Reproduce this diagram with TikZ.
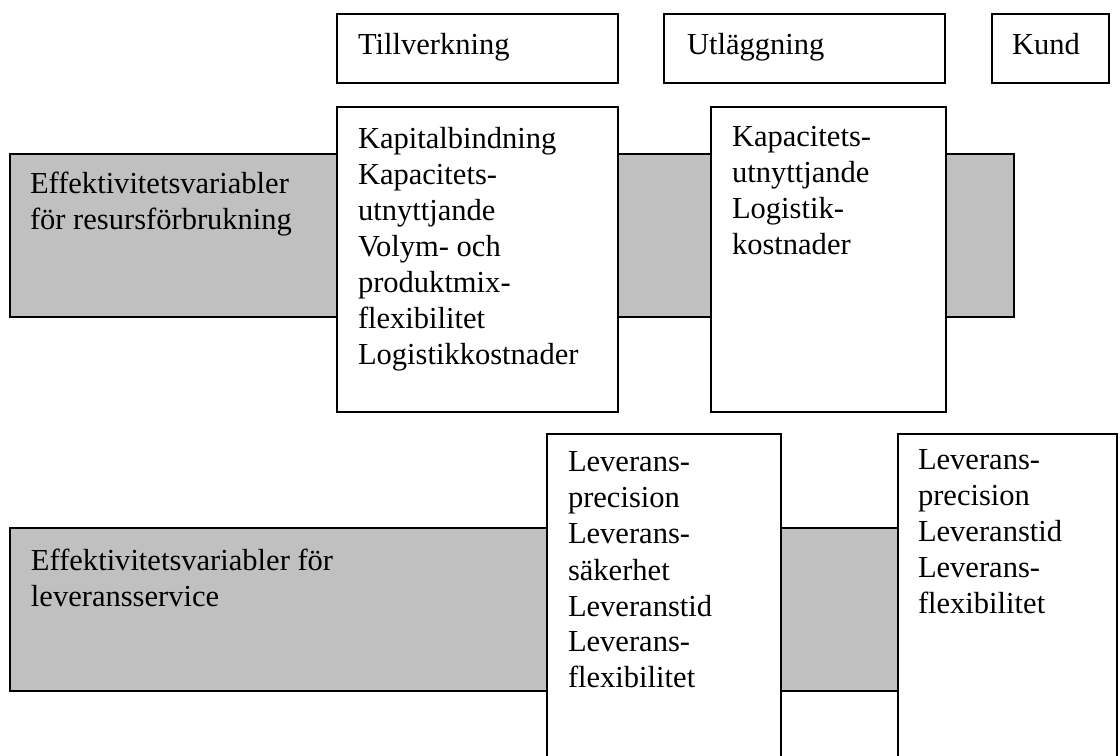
\documentclass[tikz,border=0pt]{standalone}
\usepackage{fontspec}
\setmainfont{Liberation Serif}
\definecolor{bandgray}{RGB}{192,192,192}
\tikzset{
  boxframe/.style={rectangle,draw=black,line width=0.9pt,inner sep=0pt,outer sep=0pt,anchor=north west},
  whitebox/.style={boxframe,fill=white},
  graybar/.style={boxframe,fill=bandgray},
  txt/.style={anchor=north west,inner sep=0pt,outer sep=0pt,align=left,
              font=\fontsize{22.9pt}{27pt}\selectfont}
}
\begin{document}
\begin{tikzpicture}[x=0.75pt,y=-0.75pt]
\useasboundingbox (0,0) rectangle (1120,756);
\clip (0,0) rectangle (1120,756);

% grey bands behind the columns
\node[graybar,minimum width=753pt,minimum height=122.25pt] (band1) at (10,154) {};
\node[graybar,minimum width=667.5pt,minimum height=122.25pt] (band2) at (10,528) {};

% header boxes
\node[whitebox,minimum width=210.75pt,minimum height=51.75pt] (head1) at (337,14) {};
\node[whitebox,minimum width=210.75pt,minimum height=51.75pt] (head2) at (664,14) {};
\node[whitebox,minimum width=87.75pt,minimum height=51.75pt] (head3) at (992,14) {};

% resource-consumption columns
\node[whitebox,minimum width=210.75pt,minimum height=228.75pt] (res1) at (337,107) {};
\node[whitebox,minimum width=176.25pt,minimum height=228.75pt] (res2) at (711,107) {};

% delivery-service columns (running off the bottom)
\node[whitebox,minimum width=175.5pt,minimum height=270pt] (del1) at (547,434) {};
\node[whitebox,minimum width=164.25pt,minimum height=270pt] (del2) at (898,434) {};

% texts
\node[txt] (head1t) at ([shift={(21,19)}]head1.north west) {Tillverkning};
\node[txt] (head2t) at ([shift={(23,19)}]head2.north west) {Utläggning};
\node[txt] (head3t) at ([shift={(20,19)}]head3.north west) {Kund};

\node[txt] (band1t) at ([shift={(20,18)}]band1.north west)
  {Effektivitetsvariabler\\för resursförbrukning};
\node[txt] (band2t) at ([shift={(21,21)}]band2.north west)
  {Effektivitetsvariabler för\\leveransservice};

\node[txt] (res1t) at ([shift={(21,20)}]res1.north west)
  {Kapitalbindning\\Kapacitets-\\utnyttjande\\Volym- och\\produktmix-\\flexibilitet\\Logistikkostnader};
\node[txt] (res2t) at ([shift={(21,19)}]res2.north west)
  {Kapacitets-\\utnyttjande\\Logistik-\\kostnader};

\node[txt] (del1t) at ([shift={(21,18)}]del1.north west)
  {Leverans-\\precision\\Leverans-\\säkerhet\\Leveranstid\\Leverans-\\flexibilitet};
\node[txt] (del2t) at ([shift={(20,16)}]del2.north west)
  {Leverans-\\precision\\Leveranstid\\Leverans-\\flexibilitet};
\end{tikzpicture}
\end{document}
